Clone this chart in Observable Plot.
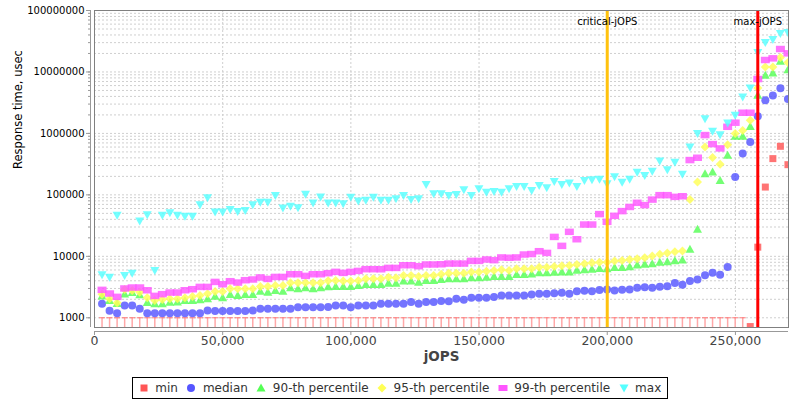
<!DOCTYPE html>
<html><head><meta charset="utf-8">
<script src="https://cdn.jsdelivr.net/npm/d3@7"></script>
<script src="https://cdn.jsdelivr.net/npm/@observablehq/plot@0.6"></script>
<style>
body{margin:0;background:#fff;font-family:"DejaVu Sans",sans-serif;}
#legend{display:flex;align-items:center;width:fit-content;margin:5px auto 0;border:1px solid #000;height:20px;padding:0 6px;font-size:12px;color:#333;box-sizing:content-box;}
#legend .it{display:flex;align-items:center;margin-right:8.5px;white-space:nowrap;}
#legend .it:last-child{margin-right:0;}
#legend svg{margin-right:6.5px;}
</style></head><body>
<div id="chart"></div>
<div id="legend"></div>
<script>
const jops = [2940,5880,8820,11760,14700,17640,20580,23520,26460,29400,
32340,35280,38220,41160,44100,47040,49980,52920,55860,58800,
61740,64680,67620,70560,73500,76440,79380,82320,85260,88200,
91140,94080,97020,99960,102900,105840,108780,111720,114660,117600,
120540,123480,126420,129360,132300,135240,138180,141120,144060,147000,
149940,152880,155820,158760,161700,164640,167580,170520,173460,176400,
179340,182280,185220,188160,191100,194040,196980,199920,202860,205800,
208740,211680,214620,217560,220500,223440,226380,229320,232260,235200,
238140,241080,244020,246960,249900,252840,255780,258720,261660,264600,
267540,270480];

const minVals = [1000,1000,1000,1000,1000,1000,1000,1000,1000,1000,
1000,1000,1000,1000,1000,1000,1000,1000,1000,1000,
1000,1000,1000,1000,1000,1000,1000,1000,1000,1000,
1000,1000,1000,1000,1000,1000,1000,1000,1000,1000,
1000,1000,1000,1000,1000,1000,1000,1000,1000,1000,
1000,1000,1000,1000,1000,1000,1000,1000,1000,1000,
1000,1000,1000,1000,1000,1000,1000,1000,1000,1000,
1000,1000,1000,1000,1000,1000,1000,1000,1000,1000,
1000,1000,1000,1000,1000,1000,720,14100,134000,389000,
617000,310000];

const medianVals = [1690,1300,1190,1590,1590,1400,1190,1190,1190,1190,
1190,1190,1190,1190,1310,1290,1290,1290,1290,1290,
1310,1400,1400,1400,1400,1400,1490,1490,1490,1490,
1500,1590,1590,1490,1590,1590,1590,1690,1690,1690,
1690,1800,1690,1800,1800,1880,1860,2040,1960,2110,
2110,2110,2170,2310,2310,2310,2310,2400,2460,2460,
2500,2550,2460,2710,2750,2710,2820,2890,2780,2870,
2890,3080,3150,3080,3200,3270,3680,3450,3950,4180,
4900,5400,5030,6680,195000,469000,724000,1900000,3460000,4130000,
5430000,3630000];

const p90Vals = [2260,1910,1710,2430,2580,2380,1770,1690,1690,1790,
1810,1910,1910,1970,2040,2240,2110,2400,2310,2400,
2400,2710,2610,2780,2710,3080,2970,3080,2970,3080,
3190,3230,3230,3230,3360,3480,3480,3480,3660,3660,
3950,3950,3800,4050,4050,4180,4310,4310,4310,4480,
4480,4580,4700,4700,4700,5070,5070,5140,5400,5430,
5500,5540,5540,5960,6040,6150,6340,6270,6600,6600,
6760,7200,7430,7560,8030,8140,8450,8700,13000,27600,
221000,235000,172000,440000,897000,897000,1300000,4170000,8830000,9630000,
14900000,10900000];

const p95Vals = [2420,2040,1750,2890,2780,2610,2110,1910,1990,2040,
2040,2110,2220,2310,2460,2680,2680,2970,2970,2970,
2970,3230,3230,3360,3360,3710,3710,3710,3700,3710,
4000,4050,3950,3950,4050,4310,4310,4310,4580,4500,
4880,4880,4700,4880,4880,5130,5330,5330,5330,5540,
5540,5740,5890,6040,5890,6270,6270,6280,6660,6660,
6840,7000,7110,7380,7560,7850,8030,8030,8360,8580,
8880,9140,9500,10100,10800,11350,11900,12200,84000,162000,
601000,404000,314000,657000,993000,1120000,1630000,5490000,12050000,12000000,
17200000,14200000];

const p99Vals = [2820,2460,2170,2970,3080,3080,2780,2250,2400,2550,
2550,2780,2890,3150,3150,3800,3480,3900,3710,4050,
4160,4490,4250,4580,4580,5070,5070,4760,5070,5070,
5270,5540,5330,5540,5740,6120,6120,6100,6420,6420,
7100,7100,6850,7300,7300,7360,7560,7560,7560,8350,
8350,8800,8580,9500,9400,9500,10600,10800,12000,11260,
20500,14660,24800,18800,32600,32600,48200,36100,45200,53900,
63000,73600,67500,83000,98000,98000,92000,94000,365000,398000,
931000,664000,565000,1270000,1480000,2150000,2150000,7600000,15500000,16500000,
23400000,19900000];

const maxVals = [5010,4580,46400,4890,5330,37400,47600,5890,46400,51300,
46400,44700,44700,69200,90000,52500,52500,58000,53800,55800,
69000,76000,76000,98000,61000,65000,62000,102000,73500,92000,
73500,73500,71700,91700,79500,81400,91700,81400,81400,86800,
98000,84300,86800,148000,104000,104000,98000,101000,121600,98000,
126000,110600,113700,110600,126000,137000,137000,118000,142000,130000,
165000,148000,156000,137000,172000,176000,179000,152000,198000,161000,
179000,234000,207000,243000,355000,257000,340000,216000,601000,993000,
1740000,1080000,955000,1480000,1970000,3920000,5490000,20700000,30100000,33700000,
42200000,43800000];

const criticalJops = 200000;
const maxJops = 258720;
const xTicks = [0, 50000, 100000, 150000, 200000, 250000];
const yTicks = [1000, 10000, 100000, 1000000, 10000000, 100000000];
const seriesNames = ["min", "median", "90-th percentile", "95-th percentile", "99-th percentile", "max"];
const seriesColors = ["#ff5555", "#5555ff", "#55ff55", "#ffff55", "#ff55ff", "#55ffff"];

const yMin = 695, yMax = 1e8, xMax = 270700;

function poly(pts) {
  return {draw(c) { c.moveTo(pts[0][0], pts[0][1]); for (let i = 1; i < pts.length; i++) c.lineTo(pts[i][0], pts[i][1]); c.closePath(); }};
}
const SYM = {
  square: poly([[-3.5,-3.5],[3.5,-3.5],[3.5,3.5],[-3.5,3.5]]),
  circle: {draw(c) { c.moveTo(4, 0); c.arc(0, 0, 4, 0, 2 * Math.PI); }},
  triUp: poly([[0,-4.5],[4.5,3.5],[-4.5,3.5]]),
  diamond: poly([[0,-4.5],[4.5,0],[0,4.5],[-4.5,0]]),
  hrect: poly([[-4.5,-3.5],[4.5,-3.5],[4.5,3],[-4.5,3]]),
  triDown: poly([[0,4.5],[4.5,-3.5],[-4.5,-3.5]])
};
const TBAR = {draw(c) { c.moveTo(-3, 0); c.lineTo(3, 0); }};
const symList = [SYM.square, SYM.circle, SYM.triUp, SYM.diamond, SYM.hrect, SYM.triDown];
const pathD = [
  "M-3.5,-3.5L3.5,-3.5L3.5,3.5L-3.5,3.5Z",
  "M4,0A4,4,0,1,1,-4,0A4,4,0,1,1,4,0Z",
  "M0,-4.5L4.5,3.5L-4.5,3.5Z",
  "M0,-4.5L4.5,0L0,4.5L-4.5,0Z",
  "M-4.5,-3L4.5,-3L4.5,3L-4.5,3Z",
  "M0,4.5L4.5,-3.5L-4.5,-3.5Z"
];

const allVals = [minVals, medianVals, p90Vals, p95Vals, p99Vals, maxVals];
const rows = allVals.map(vals => jops.map((x, i) => ({x, y: vals[i]})));
const minBelow = rows[0].filter(d => d.y === 1000);
const minShown = rows[0].filter(d => d.y !== 1000);

const minorY = [];
for (let e = 3; e < 8; e++) for (let m = 1; m < 10; m++) { const v = m * 10 ** e; if (v >= yMin && v <= yMax) minorY.push(v); }
minorY.push(1e8);

const dotMarks = rows.map((data, s) => Plot.dot(s === 0 ? minShown : data, {
  x: "x", y: "y", symbol: symList[s], r: 4, fill: seriesColors[s], fillOpacity: 0.82, stroke: "none", clip: true
}));

const chart = Plot.plot({
  width: 800, height: 372,
  marginLeft: 94, marginRight: 12, marginTop: 10, marginBottom: 45,
  style: {fontFamily: "DejaVu Sans, sans-serif", fontSize: "10px", color: "#000", background: "#fff"},
  x: {domain: [0, xMax]},
  y: {type: "log", domain: [yMin, yMax]},
  marks: [
    Plot.gridY(minorY, {stroke: "#cfcfcf", strokeOpacity: 1, strokeDasharray: "2,2"}),
    Plot.gridX(xTicks.filter(d => d > 0), {stroke: "#cfcfcf", strokeOpacity: 1, strokeDasharray: "2,2"}),
    Plot.ruleX(minBelow, {x: "x", y1: "y", y2: yMin, stroke: "#ffa8a8", strokeWidth: 1.5}),
    Plot.dot(minBelow, {x: "x", y: "y", symbol: TBAR, r: 3, stroke: "#ff7777", fill: "none", strokeWidth: 1}),
    ...dotMarks,
    Plot.ruleX([criticalJops], {stroke: "#ffc20e", strokeWidth: 3}),
    Plot.ruleX([maxJops], {stroke: "#ff0000", strokeWidth: 3}),
    Plot.text([{x: criticalJops, t: "critical-jOPS"}, {x: maxJops, t: "max-jOPS"}], {x: "x", text: "t", frameAnchor: "top", dy: 7.5, fontSize: 10, fill: "#000"}),
    Plot.frame({stroke: "#808080"}),
    Plot.ruleX([0], {dx: -4, stroke: "#999"}),
    Plot.ruleY([yMin], {dy: 4, stroke: "#999"}),
    Plot.axisY(minorY, {tickSize: 2, dx: -4, tickFormat: () => "", stroke: "#999", label: null}),
    Plot.axisY(yTicks, {tickSize: 4, tickPadding: 2, dx: -4, tickFormat: d => d3.format("d")(d), fontSize: 10, fill: "#000", stroke: "#999", label: null}),
    Plot.axisX(xTicks, {tickSize: 4, tickPadding: 1, dy: 4, tickFormat: d3.format(","), fontSize: 12.5, fill: "#444", stroke: "#999", label: null}),
    Plot.text(["Response time, usec"], {frameAnchor: "left", dx: -76, rotate: -90, fontSize: 11.5, fill: "#000"}),
    Plot.text(["jOPS"], {frameAnchor: "bottom", dy: 33, fontSize: 13.5, fontWeight: "bold", fill: "#444"})
  ]
});
document.getElementById("chart").appendChild(chart);

const lg = document.getElementById("legend");
seriesNames.forEach((name, i) => {
  const it = document.createElement("span");
  it.className = "it";
  it.innerHTML = `<svg width="10" height="10" viewBox="-5 -5 10 10"><path d="${pathD[i]}" fill="${seriesColors[i]}"/></svg>${name}`;
  lg.appendChild(it);
});
</script>
</body></html>
